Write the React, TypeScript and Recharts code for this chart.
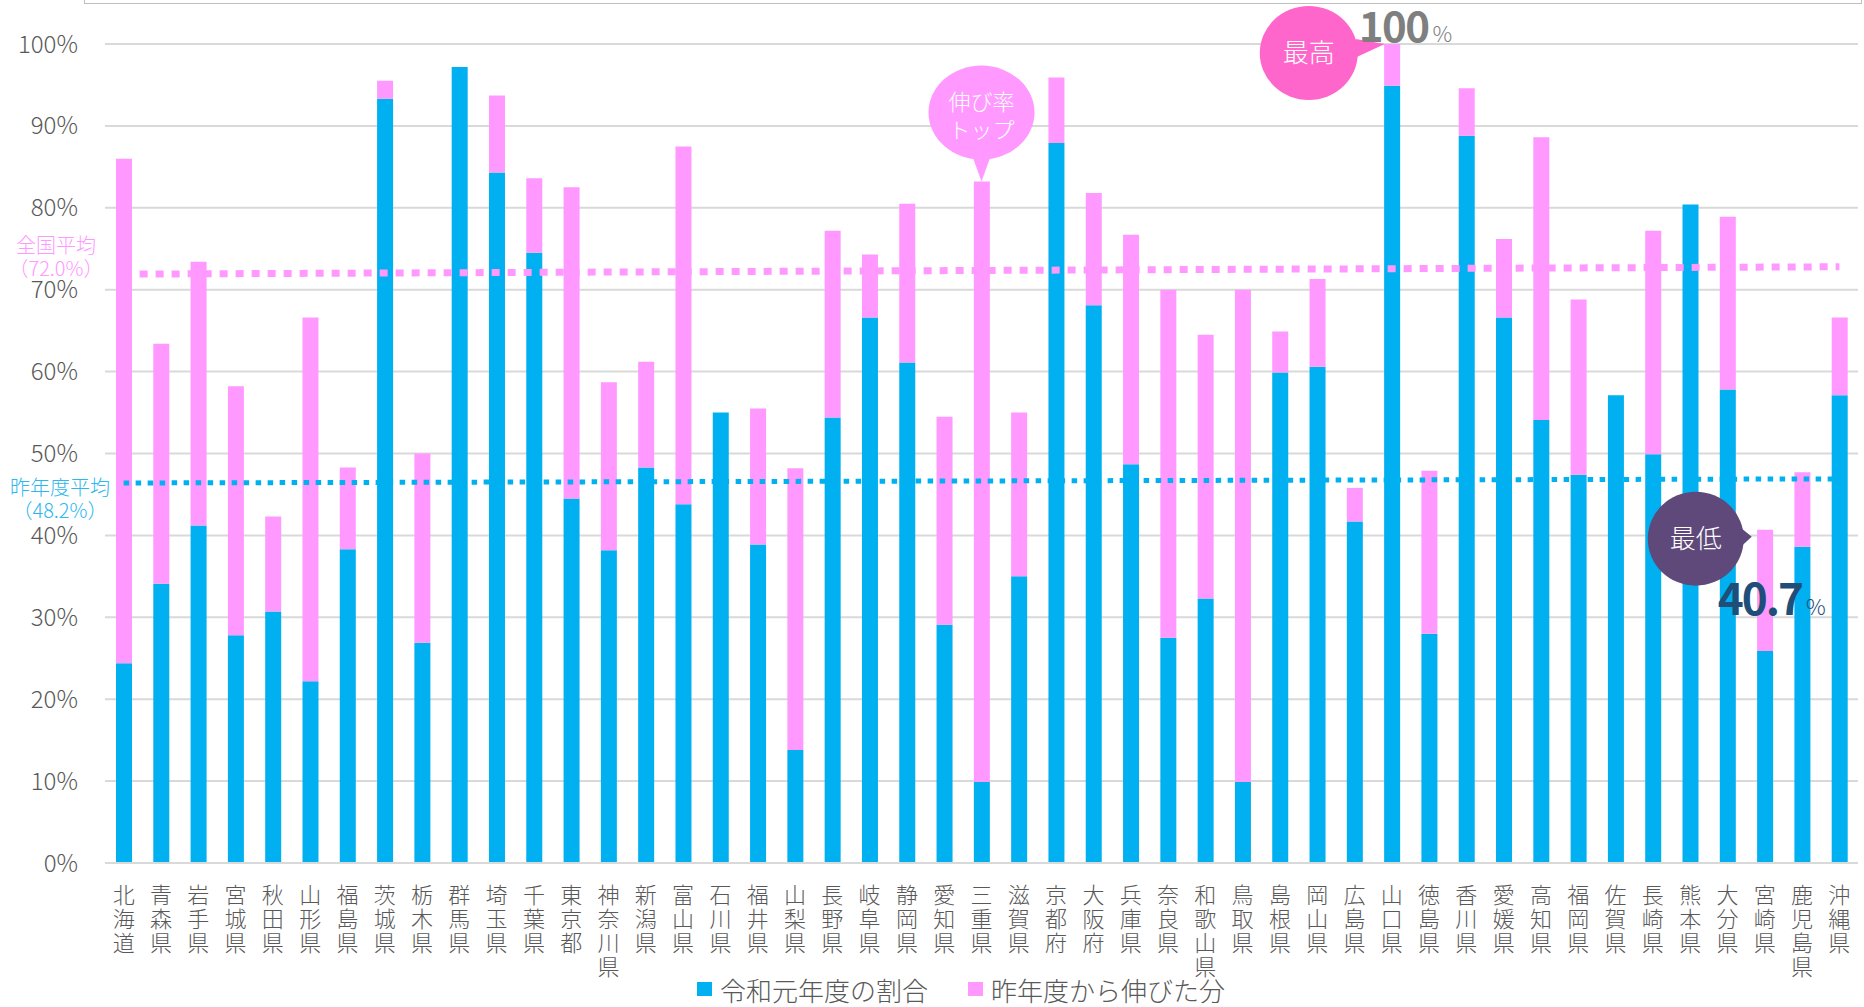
import React from "react";
import { BarChart, Bar, XAxis, YAxis, CartesianGrid, ReferenceLine, ReferenceDot, Legend } from "recharts";

// 都道府県
const prefectures = [
  "北海道", "青森県", "岩手県", "宮城県", "秋田県", "山形県", "福島県", "茨城県", "栃木県", "群馬県",
  "埼玉県", "千葉県", "東京都", "神奈川県", "新潟県", "富山県", "石川県", "福井県", "山梨県", "長野県",
  "岐阜県", "静岡県", "愛知県", "三重県", "滋賀県", "京都府", "大阪府", "兵庫県", "奈良県", "和歌山県",
  "鳥取県", "島根県", "岡山県", "広島県", "山口県", "徳島県", "香川県", "愛媛県", "高知県", "福岡県",
  "佐賀県", "長崎県", "熊本県", "大分県", "宮崎県", "鹿児島県", "沖縄県",
];

// 令和元年度の割合 (%)
const currentShare = [
  24.4, 34.1, 41.2, 27.8, 30.7, 22.2, 38.3, 93.3, 26.9, 97.2,
  84.3, 74.5, 44.5, 38.2, 48.3, 43.8, 55.0, 38.9, 13.8, 54.4,
  66.6, 61.1, 29.1, 9.9, 35.0, 87.9, 68.1, 48.7, 27.5, 32.3,
  9.9, 59.9, 60.6, 41.7, 94.9, 28.0, 88.8, 66.6, 54.1, 47.4,
  57.1, 49.9, 80.4, 57.8, 25.9, 38.6, 57.1,
];

// 昨年度から伸びた分 (%)
const growth = [
  61.6, 29.3, 32.2, 30.4, 11.6, 44.4, 10.0, 2.2, 23.1, -0.3,
  9.4, 9.1, 38.0, 20.5, 12.9, 43.7, 0, 16.6, 34.4, 22.8,
  7.7, 19.4, 25.4, 73.3, 20.0, 8.0, 13.7, 28.0, 42.5, 32.2,
  60.1, 5.0, 10.7, 4.1, 5.1, 19.9, 5.8, 9.6, 34.5, 21.4,
  -0.3, 27.3, -0.3, 21.1, 14.8, 9.1, 9.5,
];

const yTicks = [0, 10, 20, 30, 40, 50, 60, 70, 80, 90, 100];

// 平均線 (左端, 右端)
const nationalAvgLine = [71.9, 72.8];
const lastYearAvgLine = [46.4, 46.9];

// 吹き出しの位置 (都道府県, 値)
const topGrowth = { name: "三重県", value: 83.2 };
const highest = { name: "山口県", value: 100 };
const lowest = { name: "宮崎県", value: 40.7 };

const BLUE = "#00B0F0";
const PINK = "#FF99FF";
const FONT = "'Noto Sans CJK JP', 'Noto Sans', sans-serif";

const data = prefectures.map((name, i) => ({
  name,
  current: currentShare[i],
  growth: growth[i],
}));

// 縦書きの目盛りラベル
function VerticalTick({ x, y, payload }: any) {
  const chars = Array.from(String(payload.value));
  return (
    <text x={x} y={y + 38} textAnchor="middle" fontSize={22} fontWeight={300} fill="#595959" fontFamily={FONT}>
      {chars.map((c, i) => (
        <tspan key={i} x={x} dy={i === 0 ? 0 : 24}>
          {c}
        </tspan>
      ))}
    </text>
  );
}

function TopGrowthBubble({ cx, cy }: any) {
  return (
    <g fontFamily={FONT}>
      <ellipse cx={cx} cy={cy - 69} rx={53} ry={47} fill={PINK} />
      <polygon points={`${cx - 9},${cy - 25} ${cx + 9},${cy - 25} ${cx},${cy}`} fill={PINK} />
      <text x={cx} y={cy - 72} textAnchor="middle" fontSize={22} fontWeight={300} fill="#fff">
        伸び率
        <tspan x={cx} dy={28}>トップ</tspan>
      </text>
    </g>
  );
}

function HighestBubble({ cx, cy }: any) {
  return (
    <g fontFamily={FONT}>
      <ellipse cx={cx - 83} cy={cy + 9} rx={49} ry={47} fill="#FF66CC" />
      <polygon points={`${cx - 36},${cy - 5} ${cx - 35},${cy + 13} ${cx - 7},${cy}`} fill="#FF66CC" />
      <text x={cx - 83} y={cy + 18} textAnchor="middle" fontSize={26} fontWeight={300} fill="#fff">最高</text>
      <text x={cx - 33} y={cy - 2} fontSize={42} fontWeight={700} fill="#7F7F7F" letterSpacing={-1.5}>
        100<tspan fontSize={22} fontWeight={300} dx={4}>%</tspan>
      </text>
    </g>
  );
}

function LowestBubble({ cx, cy }: any) {
  return (
    <g fontFamily={FONT}>
      <ellipse cx={cx - 69} cy={cy + 9} rx={48} ry={47} fill="#5F497A" />
      <polygon points={`${cx - 24},${cy - 2} ${cx - 24},${cy + 17} ${cx - 13},${cy + 7}`} fill="#5F497A" />
      <text x={cx - 69} y={cy + 18} textAnchor="middle" fontSize={26} fontWeight={300} fill="#fff">最低</text>
      <text x={cx - 47} y={cy + 85} fontSize={44} fontWeight={700} fill="#1F4E79" letterSpacing={-2}>
        40.7<tspan fontSize={22} fontWeight={300} dx={4}>%</tspan>
      </text>
    </g>
  );
}

function LegendContent() {
  const item = (color: string, label: string) => (
    <div style={{ display: "flex", alignItems: "center", marginRight: 40 }}>
      <div style={{ width: 15, height: 14, background: color, marginRight: 8 }} />
      <span>{label}</span>
    </div>
  );
  return (
    <div style={{ display: "flex", alignItems: "center", height: 36, paddingLeft: 697, fontSize: 26, fontWeight: 300, color: "#595959", fontFamily: FONT }}>
      {item(BLUE, "令和元年度の割合")}
      {item(PINK, "昨年度から伸びた分")}
    </div>
  );
}

export default function App() {
  const last = prefectures[prefectures.length - 1];
  return (
    <div style={{ position: "absolute", left: 0, top: 0, width: 1864, height: 1007, overflow: "hidden", background: "#fff", fontFamily: FONT }}>
      <div style={{ position: "absolute", left: 84, top: -30, width: 1776, height: 32, border: "1.5px solid #bfbfbf" }} />
      <BarChart width={1864} height={1007} data={data} stackOffset="sign" margin={{ top: 44, right: 6, left: 0, bottom: 0 }}>
        <CartesianGrid vertical={false} stroke="#d9d9d9" strokeWidth={2} />
        <XAxis dataKey="name" interval={0} height={108} tickLine={false} tickSize={0} axisLine={{ stroke: "#d9d9d9", strokeWidth: 2 }} tick={<VerticalTick />} />
        <YAxis
          type="number"
          domain={[0, 100]}
          allowDataOverflow
          ticks={yTicks}
          width={105}
          axisLine={false}
          tickLine={false}
          tickSize={0}
          tickMargin={27}
          tickFormatter={(v: number) => `${v}%`}
          tick={{ fontSize: 24, fill: "#595959", fontWeight: 300, fontFamily: FONT }}
        />
        <Legend verticalAlign="bottom" height={36} content={<LegendContent />} wrapperStyle={{ left: 0, width: 1864 }} />
        <Bar dataKey="current" name="令和元年度の割合" stackId="a" fill={BLUE} barSize={16} isAnimationActive={false} />
        <Bar dataKey="growth" name="昨年度から伸びた分" stackId="a" fill={PINK} barSize={16} isAnimationActive={false} />
        <ReferenceLine
          segment={[{ x: prefectures[0], y: nationalAvgLine[0] }, { x: last, y: nationalAvgLine[1] }]}
          stroke={PINK}
          strokeWidth={7}
          strokeDasharray="8 8"
        />
        <ReferenceLine
          segment={[{ x: prefectures[0], y: lastYearAvgLine[0] }, { x: last, y: lastYearAvgLine[1] }]}
          stroke={BLUE}
          strokeWidth={5}
          strokeDasharray="5.5 6.5"
        />
        <ReferenceDot x={topGrowth.name} y={topGrowth.value} r={0} shape={(p: any) => <TopGrowthBubble {...p} />} />
        <ReferenceDot x={highest.name} y={highest.value} r={0} ifOverflow="visible" shape={(p: any) => <HighestBubble {...p} />} />
        <ReferenceDot x={lowest.name} y={lowest.value} r={0} shape={(p: any) => <LowestBubble {...p} />} />
      </BarChart>
      <div style={{ position: "absolute", left: 0, top: 233, width: 112, textAlign: "center", color: PINK, fontSize: 20, lineHeight: "23px", fontWeight: 300 }}>
        全国平均<br />（72.0%）
      </div>
      <div style={{ position: "absolute", left: 0, top: 475, width: 120, textAlign: "center", color: "#2DB7F0", fontSize: 20, lineHeight: "23px", fontWeight: 300 }}>
        昨年度平均<br />（48.2%）
      </div>
    </div>
  );
}
